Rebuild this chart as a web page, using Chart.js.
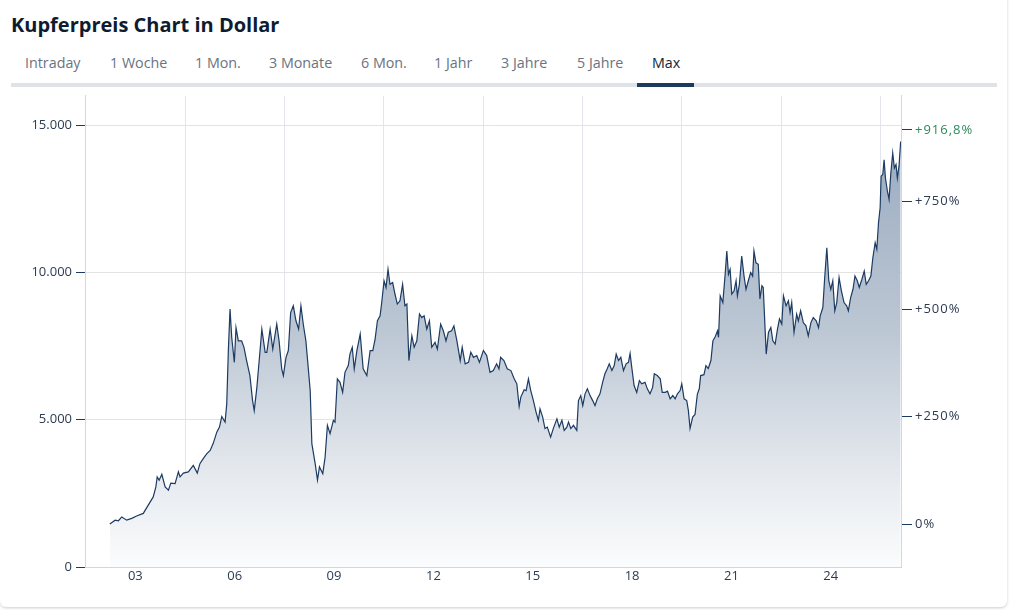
<!DOCTYPE html>
<html lang="de">
<head>
<meta charset="utf-8">
<title>Kupferpreis Chart in Dollar</title>
<script src="https://cdn.jsdelivr.net/npm/chart.js@4.4.1/dist/chart.umd.min.js"></script>
<style>
  html, body { margin: 0; padding: 0; background: #fff; }
  body { width: 1011px; height: 610px; overflow: hidden; position: relative; font-family: 'Open Sans', sans-serif; }
  .card { position: absolute; left: 0; top: -12px; width: 1007px; height: 619px; border-radius: 6px; box-shadow: 0 1px 3px rgba(0, 0, 0, .2); background: #fff; }
  h1 { position: absolute; left: 11px; top: 10px; margin: 0; font-size: 20px; font-weight: 700; color: #0e1c2f; line-height: 30px; white-space: nowrap; }
  .tabs span { position: absolute; top: 52px; font-size: 14.3px; color: #6a7380; line-height: 22px; white-space: nowrap; }
  .tabs .active { color: #16263b; }
  .bar { position: absolute; left: 11px; top: 83px; width: 986px; height: 4px; background: #dfe2e6; }
  .bar i { position: absolute; left: 626px; top: 0; width: 57px; height: 4px; background: #1b3a5e; }
  #wrap { position: absolute; left: 0; top: 84px; width: 1011px; height: 516px; }
</style>
</head>
<body>
<div class="card"></div>
<h1>Kupferpreis Chart in Dollar</h1>
<div class="tabs">
  <span style="left:25px">Intraday</span>
  <span style="left:110px">1 Woche</span>
  <span style="left:195px">1 Mon.</span>
  <span style="left:269px">3 Monate</span>
  <span style="left:361px">6 Mon.</span>
  <span style="left:434px">1 Jahr</span>
  <span style="left:501px">3 Jahre</span>
  <span style="left:577px">5 Jahre</span>
  <span class="active" style="left:652px">Max</span>
</div>
<div class="bar"><i></i></div>
<div id="wrap"><canvas id="chart"></canvas></div>
<script>
// Kupferpreis in USD je Tonne
const years = [
  2002.73, 2002.89, 2002.99, 2003.09, 2003.24, 2003.39, 2003.54, 2003.74, 2003.89, 2004.04,
  2004.12, 2004.16, 2004.22, 2004.30, 2004.40, 2004.50, 2004.57, 2004.70, 2004.80, 2004.85,
  2004.95, 2005.10, 2005.25, 2005.37, 2005.45, 2005.55, 2005.66, 2005.76, 2005.85, 2005.96,
  2006.04, 2006.11, 2006.21, 2006.26, 2006.31, 2006.36, 2006.41, 2006.49, 2006.54, 2006.61,
  2006.71, 2006.78, 2006.86, 2006.96, 2007.04, 2007.09, 2007.17, 2007.24, 2007.32, 2007.42,
  2007.47, 2007.57, 2007.65, 2007.77, 2007.84, 2007.92, 2007.97, 2008.05, 2008.12, 2008.19,
  2008.27, 2008.35, 2008.43, 2008.50, 2008.57, 2008.65, 2008.72, 2008.78, 2008.83, 2008.93,
  2009.00, 2009.06, 2009.16, 2009.23, 2009.30, 2009.38, 2009.48, 2009.53, 2009.60, 2009.68,
  2009.76, 2009.83, 2009.93, 2009.98, 2010.05, 2010.11, 2010.19, 2010.29, 2010.38, 2010.49,
  2010.59, 2010.67, 2010.74, 2010.81, 2010.89, 2010.94, 2011.01, 2011.07, 2011.13, 2011.19,
  2011.27, 2011.34, 2011.41, 2011.49, 2011.57, 2011.64, 2011.70, 2011.76, 2011.85, 2011.92,
  2012.00, 2012.08, 2012.15, 2012.22, 2012.30, 2012.38, 2012.45, 2012.55, 2012.62, 2012.72,
  2012.80, 2012.88, 2012.95, 2013.05, 2013.12, 2013.21, 2013.31, 2013.37, 2013.46, 2013.56,
  2013.63, 2013.71, 2013.81, 2013.89, 2014.01, 2014.11, 2014.21, 2014.31, 2014.41, 2014.48,
  2014.53, 2014.63, 2014.73, 2014.84, 2014.94, 2015.02, 2015.09, 2015.14, 2015.24, 2015.30,
  2015.37, 2015.44, 2015.52, 2015.60, 2015.67, 2015.72, 2015.80, 2015.87, 2015.94, 2016.04,
  2016.12, 2016.23, 2016.30, 2016.38, 2016.45, 2016.53, 2016.58, 2016.65, 2016.73, 2016.83,
  2016.88, 2016.95, 2017.01, 2017.08, 2017.15, 2017.23, 2017.31, 2017.38, 2017.45, 2017.53,
  2017.61, 2017.68, 2017.75, 2017.81, 2017.89, 2017.96, 2018.02, 2018.09, 2018.16, 2018.24,
  2018.32, 2018.39, 2018.44, 2018.49, 2018.56, 2018.64, 2018.72, 2018.79, 2018.89, 2018.96,
  2019.04, 2019.12, 2019.17, 2019.26, 2019.35, 2019.41, 2019.50, 2019.57, 2019.65, 2019.73,
  2019.80, 2019.87, 2019.95, 2020.00, 2020.07, 2020.15, 2020.20, 2020.25, 2020.33, 2020.40,
  2020.47, 2020.53, 2020.57, 2020.67, 2020.73, 2020.80, 2020.88, 2020.94, 2021.01, 2021.08,
  2021.11, 2021.16, 2021.24, 2021.31, 2021.36, 2021.41, 2021.46, 2021.51, 2021.58, 2021.64,
  2021.68, 2021.74, 2021.81, 2021.88, 2021.94, 2022.01, 2022.08, 2022.14, 2022.18, 2022.24,
  2022.31, 2022.36, 2022.42, 2022.46, 2022.55, 2022.62, 2022.69, 2022.75, 2022.82, 2022.89,
  2022.95, 2023.02, 2023.07, 2023.15, 2023.22, 2023.27, 2023.32, 2023.39, 2023.47, 2023.52,
  2023.59, 2023.67, 2023.75, 2023.82, 2023.90, 2023.97, 2024.06, 2024.13, 2024.18, 2024.26,
  2024.31, 2024.38, 2024.44, 2024.50, 2024.56, 2024.62, 2024.68, 2024.75, 2024.82, 2024.90,
  2024.98, 2025.03, 2025.10, 2025.17, 2025.23, 2025.30, 2025.36, 2025.44, 2025.51, 2025.57,
  2025.64, 2025.71, 2025.77, 2025.84, 2025.89, 2025.94, 2025.99, 2026.02, 2026.07, 2026.11,
  2026.15, 2026.21, 2026.26, 2026.31, 2026.37, 2026.42, 2026.47, 2026.51, 2026.56, 2026.61
]
const prices = [
  1460, 1590, 1570, 1700, 1590, 1650, 1730, 1820, 2100, 2380,
  2720, 3060, 2950, 3150, 2720, 2610, 2850, 2830, 3230, 3060,
  3190, 3230, 3450, 3190, 3510, 3680, 3850, 3960, 4190, 4580,
  4750, 5110, 4920, 5540, 7400, 8760, 7800, 6950, 8130, 7680,
  7680, 7460, 7010, 6500, 5650, 5310, 6100, 7010, 8080, 7290,
  7290, 8080, 7400, 8250, 7680, 6730, 6500, 7120, 7350, 8640,
  8870, 8360, 8080, 8870, 8250, 7680, 6780, 5990, 4190, 3510,
  2950, 3400, 3170, 3730, 4810, 4530, 4980, 4920, 6390, 6270,
  5930, 6610, 6840, 7230, 7460, 6730, 7350, 7910, 6730, 6500,
  7350, 7350, 7740, 8360, 8530, 8980, 9720, 9490, 10110, 9600,
  9660, 9270, 8930, 9040, 9600, 8870, 8930, 7010, 7850, 7460,
  7680, 8590, 8470, 8530, 8080, 8360, 7460, 7630, 7400, 8250,
  8020, 7680, 7970, 8020, 8190, 7680, 7010, 7460, 6900, 6950,
  7290, 7120, 7180, 6950, 7350, 7180, 6610, 6670, 6900, 6730,
  7120, 7010, 6730, 6670, 6390, 6220, 5450, 5770, 6020, 5990,
  6390, 5990, 5650, 5260, 4980, 5370, 5090, 4700, 4750, 4410,
  4700, 5030, 4750, 4980, 4640, 4750, 4920, 4700, 4810, 4640,
  5650, 5820, 5480, 5880, 6050, 5820, 5650, 5480, 5710, 5880,
  6270, 6560, 6730, 6900, 6670, 6840, 7230, 7010, 7120, 6670,
  6900, 6950, 7250, 6780, 6160, 5930, 6330, 6220, 6270, 6050,
  5880, 6100, 6560, 6500, 6390, 5930, 5930, 5970, 5710, 5820,
  5710, 5880, 5990, 6220, 5710, 5650, 5310, 4700, 5090, 5180,
  5860, 6060, 6500, 6530, 6840, 6740, 7010, 7680, 7820, 8020,
  7800, 9210, 8980, 9940, 10730, 9940, 10110, 9270, 9380, 9720,
  9210, 9600, 10560, 9880, 9430, 9720, 10000, 9880, 10730, 10330,
  10280, 9100, 9550, 9490, 7230, 7970, 8130, 7680, 7570, 8080,
  8420, 8250, 9210, 8870, 9040, 8640, 8980, 7970, 8590, 8360,
  8700, 8300, 8190, 7850, 8300, 8470, 8360, 8130, 8530, 8810,
  9720, 10840, 9720, 9430, 9720, 8700, 8980, 9830, 9380, 8980,
  8870, 8700, 9150, 9430, 9880, 9720, 9490, 9770, 10050, 9600,
  9720, 9880, 10500, 11010, 10790, 11680, 12200, 13270, 13330, 13830,
  13210, 12760, 12480, 13330, 14060, 13550, 13670, 13210, 13610, 14450
]

const priceTicks = [0, 5000, 10000, 15000]
const labelYears = [2003.5, 2006.5, 2009.5, 2012.5, 2015.5, 2018.5, 2021.5, 2024.5]
const gridYears = [2005, 2008, 2011, 2014, 2017, 2020, 2023, 2026]
const changeTicks = [0, 250, 500, 750]
const lastChange = 916.8

const basePrice = prices[0]
const allChanges = changeTicks.concat([lastChange])

const navy = '#1c3b62'
const textColor = '#2b3b52'
const axisFont = { family: 'Open Sans', size: 13 }

const formatPrice = (v) => String(v).replace(/\B(?=(\d{3})+(?!\d))/g, '.')
const formatChange = (p) => (p === 0 ? '0%' : '+' + String(p).replace('.', ',') + '%')

// die Prozent-Beschriftung rechts ist etwas gesperrt
const spacedLabels = {
  id: 'spacedLabels',
  afterLayout (chart) {
    const scale = chart.scales.change
    if (!scale || scale._spaced) return
    const orig = scale.drawLabels.bind(scale)
    scale.drawLabels = (area) => {
      const c = chart.ctx
      const prev = c.letterSpacing
      c.letterSpacing = '1px'
      orig(area)
      c.letterSpacing = prev || '0px'
    }
    scale._spaced = true
  }
}

const chartElement = document.getElementById('chart').getContext('2d')

const copperChart = new Chart(chartElement, {
  type: 'line',
  data: {
    datasets: [{
      data: years.map((y, i) => ({ x: y, y: prices[i] })),
      borderColor: navy,
      borderWidth: 1.2,
      pointRadius: 0,
      tension: 0,
      fill: 'origin',
      backgroundColor: (context) => {
        const { ctx, chartArea } = context.chart
        if (!chartArea) return 'rgba(150,168,192,0.5)'
        const g = ctx.createLinearGradient(0, chartArea.top, 0, chartArea.bottom)
        g.addColorStop(0, '#93a5bd')
        g.addColorStop(0.5, '#bcc7d4')
        g.addColorStop(0.8, '#e5e9ee')
        g.addColorStop(1, '#fbfcfd')
        return g
      }
    }]
  },
  plugins: [spacedLabels],
  options: {
    responsive: true,
    maintainAspectRatio: false,
    animation: false,
    layout: { padding: { top: 5, left: 0, right: 0, bottom: 0 } },
    plugins: {
      legend: { display: false },
      tooltip: { enabled: false }
    },
    scales: {
      x: {
        type: 'linear',
        min: 2001.98,
        max: 2026.62,
        afterBuildTicks: (axis) => {
          axis.ticks = labelYears.concat(gridYears).sort((a, b) => a - b).map(v => ({ value: v }))
        },
        afterFit: (scale) => { scale.height = 33 },
        grid: {
          color: (c) => (c.tick && Number.isInteger(c.tick.value) ? '#e2e5e9' : 'rgba(0,0,0,0)'),
          drawTicks: false
        },
        border: { color: '#d3d7dc' },
        ticks: {
          autoSkip: false,
          maxRotation: 0,
          padding: 1,
          color: textColor,
          font: axisFont,
          callback: (v) => (Number.isInteger(v) ? '' : String(Math.floor(v) % 100).padStart(2, '0'))
        }
      },
      y: {
        position: 'left',
        min: 0,
        max: 16000,
        afterBuildTicks: (axis) => { axis.ticks = priceTicks.map(v => ({ value: v })) },
        afterFit: (scale) => { scale.width = 85 },
        grid: { color: '#e3e3e3', tickColor: navy, tickLength: 9 },
        border: { color: '#d3d7dc' },
        ticks: {
          padding: 4,
          color: textColor,
          font: axisFont,
          callback: (v) => formatPrice(v)
        }
      },
      change: {
        position: 'right',
        min: 0,
        max: 16000,
        afterBuildTicks: (axis) => {
          axis.ticks = allChanges.map(p => ({ value: basePrice * (1 + p / 100) }))
        },
        afterFit: (scale) => { scale.width = 110 },
        grid: { drawOnChartArea: false, tickColor: navy, tickLength: 11 },
        border: { color: '#d3d7dc' },
        ticks: {
          padding: 3,
          font: axisFont,
          color: (c) => (c.index === allChanges.length - 1 ? '#2e8a5c' : textColor),
          callback: (v, i) => formatChange(allChanges[i])
        }
      }
    }
  }
})
</script>
</body>
</html>
